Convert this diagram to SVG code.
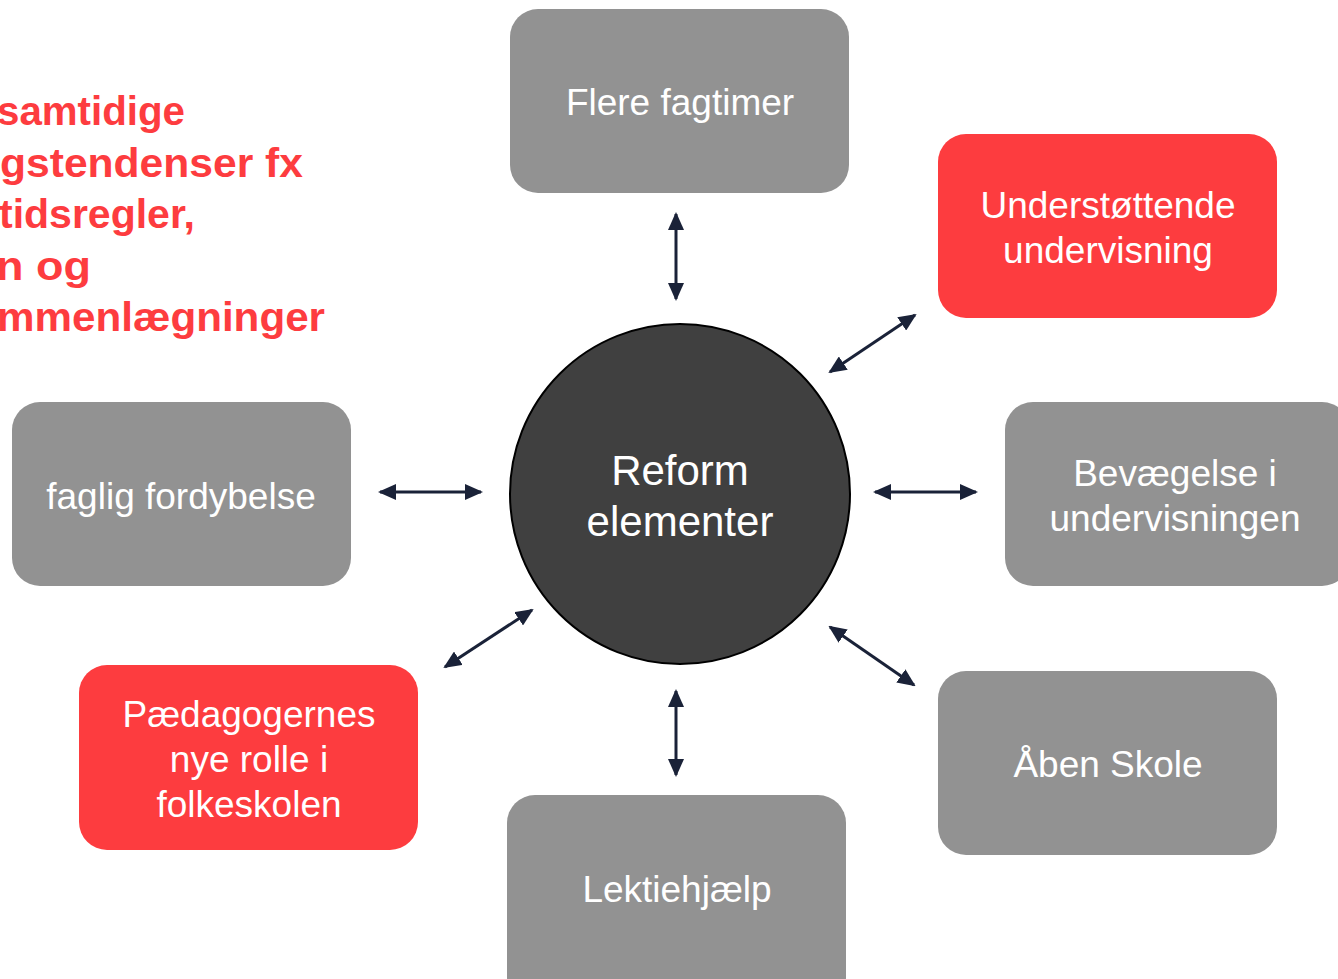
<svg xmlns="http://www.w3.org/2000/svg" width="1338" height="979" viewBox="0 0 1338 979">
<style>
.box{fill:#929292}
.red{fill:#fd3c3f}
.t{font-family:"Liberation Sans",Arial,sans-serif;font-size:37px;fill:#ffffff;text-anchor:middle}
.c{font-family:"Liberation Sans",Arial,sans-serif;font-size:42px;fill:#ffffff;text-anchor:middle}
.note{font-family:"Liberation Sans",Arial,sans-serif;font-size:41px;font-weight:bold;fill:#fd3c3f}
.conn{stroke:#1a2238;stroke-width:3;fill:none;marker-start:url(#ah);marker-end:url(#ah)}
</style>
<defs>
<marker id="ah" markerUnits="userSpaceOnUse" markerWidth="18" markerHeight="16" viewBox="0 0 18 16" refX="16" refY="8" orient="auto-start-reverse">
<path d="M0,0 L18,8 L0,16 Z" fill="#1a2238"/>
</marker>
</defs>
<rect width="1338" height="979" fill="#ffffff"/>
<g id="note">
<text class="note" x="-3" y="125" textLength="188" lengthAdjust="spacingAndGlyphs">samtidige</text>
<text class="note" x="0" y="177" textLength="303" lengthAdjust="spacingAndGlyphs">gstendenser fx</text>
<text class="note" x="-1" y="228" textLength="196" lengthAdjust="spacingAndGlyphs">tidsregler,</text>
<text class="note" x="-4" y="280" textLength="95" lengthAdjust="spacingAndGlyphs">n og</text>
<text class="note" x="-3" y="331" textLength="328" lengthAdjust="spacingAndGlyphs">mmenlægninger</text>
</g>
<g id="connectors">
<line class="conn" x1="676" y1="214" x2="676" y2="299"/>
<line class="conn" x1="830" y1="372" x2="915" y2="315"/>
<line class="conn" x1="875" y1="492" x2="976" y2="492"/>
<line class="conn" x1="380" y1="492" x2="481" y2="492"/>
<line class="conn" x1="445" y1="667" x2="532" y2="610"/>
<line class="conn" x1="830" y1="627" x2="914" y2="685"/>
<line class="conn" x1="676" y1="691" x2="676" y2="775"/>
</g>
<g id="center">
<circle cx="680" cy="494" r="170" fill="#404040" stroke="#000000" stroke-width="2"/>
<text class="c" x="680" y="485">Reform</text>
<text class="c" x="680" y="536">elementer</text>
</g>
<g id="flere-fagtimer">
<rect class="box" x="510" y="9" width="339" height="184" rx="28"/>
<text class="t" x="680" y="115">Flere fagtimer</text>
</g>
<g id="understottende">
<rect class="red" x="938" y="134" width="339" height="184" rx="28"/>
<text class="t" x="1108" y="218">Understøttende</text>
<text class="t" x="1108" y="263">undervisning</text>
</g>
<g id="bevaegelse">
<rect class="box" x="1005" y="402" width="345" height="184" rx="28"/>
<text class="t" x="1175" y="486">Bevægelse i</text>
<text class="t" x="1175" y="531">undervisningen</text>
</g>
<g id="aaben-skole">
<rect class="box" x="938" y="671" width="339" height="184" rx="28"/>
<text class="t" x="1108" y="777">Åben Skole</text>
</g>
<g id="lektiehjaelp">
<rect class="box" x="507" y="795" width="339" height="210" rx="28"/>
<text class="t" x="677" y="902">Lektiehjælp</text>
</g>
<g id="paedagogernes">
<rect class="red" x="79" y="665" width="339" height="185" rx="28"/>
<text class="t" x="249" y="727">Pædagogernes</text>
<text class="t" x="249" y="772">nye rolle i</text>
<text class="t" x="249" y="817">folkeskolen</text>
</g>
<g id="faglig-fordybelse">
<rect class="box" x="12" y="402" width="339" height="184" rx="28"/>
<text class="t" x="181" y="509">faglig fordybelse</text>
</g>
</svg>
